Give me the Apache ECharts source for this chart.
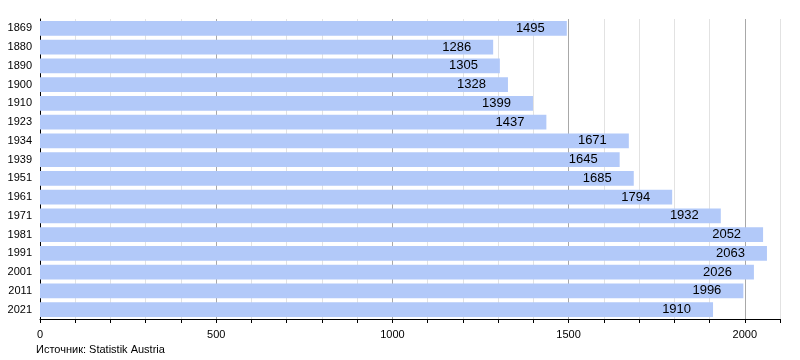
<!DOCTYPE html>
<html><head><meta charset="utf-8">
<script src="https://cdn.jsdelivr.net/npm/echarts@6/dist/echarts.min.js"></script>
<style>html,body{margin:0;padding:0;background:#fff}#c{width:800px;height:360px}</style>
</head><body><div id="c"></div>
<script>
const years = ['1869','1880','1890','1900','1910','1923','1934','1939','1951','1961','1971','1981','1991','2001','2011','2021'];
const population = [1495,1286,1305,1328,1399,1437,1671,1645,1685,1794,1932,2052,2063,2026,1996,1910];
const xTickLabels = [0,500,1000,1500,2000];
const sourceText = 'Источник: Statistik Austria';

const chart = echarts.init(document.getElementById('c'), null, {renderer:'canvas'});
chart.setOption({
  animation:false,
  backgroundColor:'#fff',
  textStyle:{fontFamily:'Liberation Sans, Arial, sans-serif'},
  grid:{left:40,right:20,top:19,bottom:41},
  graphic:[{type:'text',left:36,top:344,style:{text:sourceText,fontSize:11,fill:'#000',fontFamily:'Liberation Sans, Arial, sans-serif'}}],
  xAxis:{
    type:'value',min:0,max:2100,interval:100,
    axisLine:{show:true,lineStyle:{color:'#000',width:1}},
    axisTick:{show:true,length:4,lineStyle:{color:'#000'}},
    axisLabel:{color:'#000',fontSize:11,margin:10,
      formatter:v=> xTickLabels.indexOf(v)>=0 ? String(v) : ''},
    splitLine:{show:true,lineStyle:{color:['#a8a8a8','#e2e2e2','#e2e2e2','#e2e2e2','#e2e2e2'],width:1}}
  },
  yAxis:{
    type:'category',data:years,inverse:true,
    axisLine:{show:true,lineStyle:{color:'#000',width:1}},
    axisTick:{show:false},
    axisLabel:{color:'#000',fontSize:11,margin:8},
    splitLine:{show:false}
  },
  series:[{
    type:'bar',data:population,barCategoryGap:'22%',
    itemStyle:{color:'#b2c9f9'},
    label:{show:true,position:'insideRight',distance:22,color:'#000',fontSize:13}
  }]
});
</script></body></html>
